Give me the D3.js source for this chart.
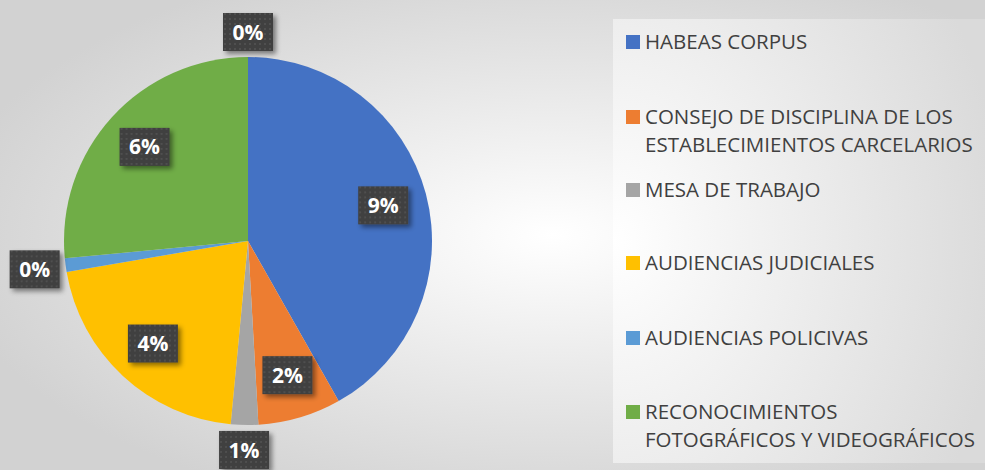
<!DOCTYPE html>
<html>
<head>
<meta charset="utf-8">
<script src="https://cdn.jsdelivr.net/npm/d3@7"></script>
<style>
  body { margin: 0; }
  svg { display: block; }
</style>
</head>
<body>
<svg></svg>
<script>
const width = 985, height = 470;

// data (slice shares), labels as shown
const categories = [
  "HABEAS CORPUS",
  "CONSEJO DE DISCIPLINA DE LOS|ESTABLECIMIENTOS CARCELARIOS",
  "MESA DE TRABAJO",
  "AUDIENCIAS JUDICIALES",
  "AUDIENCIAS POLICIVAS",
  "RECONOCIMIENTOS|FOTOGRÁFICOS Y VIDEOGRÁFICOS",
  ""   // seventh category, legend entry cut off below the picture
];
const values = [41.8, 7.3, 2.4, 20.8, 1.2, 26.5, 0];
const valueLabels = ["9%", "2%", "1%", "4%", "0%", "6%", "0%"];
const colors = ["#4472C4", "#ED7D31", "#A5A5A5", "#FFC000", "#5B9BD5", "#70AD47", "#264478"];

const svg = d3.select("svg").attr("width", width).attr("height", height);
const defs = svg.append("defs");

// chart background gradient
const bg = defs.append("radialGradient").attr("id", "bg")
    .attr("cx", "0.56").attr("cy", "0.5").attr("r", "0.62");
bg.append("stop").attr("offset", "0").attr("stop-color", "#ffffff");
bg.append("stop").attr("offset", "1").attr("stop-color", "#d2d2d2");

const lg = defs.append("radialGradient").attr("id", "lg")
    .attr("cx", "0").attr("cy", "0.5").attr("r", "1.05");
lg.append("stop").attr("offset", "0").attr("stop-color", "#ffffff");
lg.append("stop").attr("offset", "1").attr("stop-color", "#dadada");

// dotted pattern for the label boxes
const pat = defs.append("pattern").attr("id", "dots")
    .attr("width", 5).attr("height", 5).attr("patternUnits", "userSpaceOnUse");
pat.append("rect").attr("width", 5).attr("height", 5).attr("fill", "#3f3f3f");
pat.append("rect").attr("x", 1).attr("y", 1).attr("width", 2).attr("height", 2).attr("fill", "#4f4f4f");

const shadow = defs.append("filter").attr("id", "shadow")
    .attr("x", "-30%").attr("y", "-30%").attr("width", "170%").attr("height", "170%");
shadow.append("feDropShadow").attr("dx", 3).attr("dy", 3).attr("stdDeviation", 2.5)
    .attr("flood-color", "#000").attr("flood-opacity", 0.45);

svg.append("rect").attr("width", width).attr("height", height).attr("fill", "url(#bg)");

// pie
const cx = 248, cy = 241, radius = 184;
const pie = d3.pie().sort(null).value(d => d);
const arcs = pie(values);
const arc = d3.arc().innerRadius(0).outerRadius(radius);

const g = svg.append("g").attr("transform", `translate(${cx},${cy})`);
g.selectAll("path")
    .data(arcs)
    .enter().append("path")
    .attr("d", arc)
    .attr("fill", (d, i) => colors[i]);

// data labels
const boxW = 50, boxH = 38;
const labelPos = d => {
  const a = (d.startAngle + d.endAngle) / 2;
  const ux = Math.sin(a), uy = -Math.cos(a);
  const share = (d.endAngle - d.startAngle) / (2 * Math.PI);
  if (share > 0.05) {
    const r = radius * 0.76;
    return [ux * r, uy * r];
  }
  // outside: push box just beyond the rim
  const t = Math.min((boxW / 2) / Math.max(Math.abs(ux), 1e-6), (boxH / 2) / Math.max(Math.abs(uy), 1e-6));
  const r = radius + 6 + t;
  return [ux * r, uy * r];
};

const lab = g.selectAll("g.lab")
    .data(arcs)
    .enter().append("g")
    .attr("class", "lab")
    .attr("transform", d => `translate(${labelPos(d)})`);

lab.append("rect")
    .attr("x", -boxW / 2).attr("y", -boxH / 2)
    .attr("width", boxW).attr("height", boxH)
    .attr("fill", "url(#dots)")
    .attr("filter", "url(#shadow)");

lab.append("text")
    .attr("text-anchor", "middle")
    .attr("dy", "0.36em")
    .attr("fill", "#ffffff")
    .attr("font-family", "'Open Sans', Lato, sans-serif")
    .attr("font-weight", "bold")
    .attr("font-size", "21px")
    .text((d, i) => valueLabels[i]);

// legend
svg.append("rect")
    .attr("x", 613).attr("y", 19).attr("width", width - 613).attr("height", 444)
    .attr("fill", "url(#lg)");

const legendY = [42, 117, 190, 263, 338, 412];
const legend = svg.selectAll("g.leg")
    .data(categories.filter(c => c !== ""))
    .enter().append("g")
    .attr("class", "leg")
    .attr("transform", (d, i) => `translate(626,${legendY[i]})`);

legend.append("rect")
    .attr("x", 0).attr("y", -7).attr("width", 14).attr("height", 14)
    .attr("fill", (d, i) => colors[i]);

legend.append("text")
    .attr("x", 19)
    .attr("fill", "#404040")
    .attr("font-family", "'Open Sans', Lato, sans-serif")
    .attr("font-size", "20.5px")
    .selectAll("tspan")
    .data(d => d.split("|"))
    .enter().append("tspan")
    .attr("x", 19)
    .attr("y", (d, i) => i * 28)
    .attr("dy", "0.36em")
    .text(d => d);
</script>
</body>
</html>
